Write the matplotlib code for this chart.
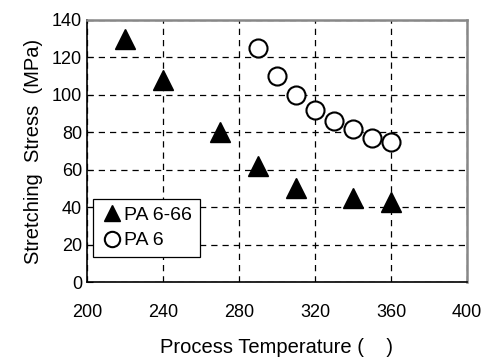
import matplotlib.pyplot as plt

plt.rcParams['font.family'] = ['Liberation Sans', 'DejaVu Sans']

# PA 6-66
temp_a = [220, 240, 270, 290, 310, 340, 360]
stress_a = [130, 108, 80, 62, 50, 45, 43]
# PA 6
temp_b = [290, 300, 310, 320, 330, 340, 350, 360]
stress_b = [125, 110, 100, 92, 86, 82, 77, 75]

fig = plt.figure(figsize=(4.85, 3.63), dpi=100)
ax = fig.add_axes([0.179, 0.223, 0.784, 0.722])

ax.plot(temp_a, stress_a, ls='none', marker='^', ms=14, color='black',
        label='PA 6-66', zorder=3)
ax.plot(temp_b, stress_b, ls='none', marker='o', ms=13, mfc='white',
        mec='black', mew=1.5, label='PA 6', zorder=3)

ax.set_xlim(200, 400)
ax.set_ylim(0, 140)
ax.set_xticks([200, 240, 280, 320, 360, 400])
ax.set_yticks(range(0, 141, 20))
ax.grid(True, color='black', ls=(0, (5, 4)), lw=0.9)
ax.tick_params(direction='in', labelsize=13, length=4)
ax.tick_params(axis='x', pad=16, length=0)

for s in ['top', 'right']:
    ax.spines[s].set_color('#888888')
    ax.spines[s].set_linewidth(1.8)
for s in ['left', 'bottom']:
    ax.spines[s].set_linewidth(1.2)

ax.set_ylabel('Stretching  Stress  (MPa)', fontsize=14.5, labelpad=6)
ax.set_xlabel('Process Temperature (    )', fontsize=14.5, labelpad=12)

leg = ax.legend(loc='lower left', bbox_to_anchor=(0.016, 0.095), fontsize=14,
                frameon=True, fancybox=False, edgecolor='black',
                handletextpad=0.0, handlelength=1.2, borderpad=0.4,
                borderaxespad=0, labelspacing=0.4, markerscale=0.85)
leg.get_frame().set_linewidth(0.9)
leg.get_frame().set_alpha(1)

fig.savefig('out.png', dpi=100)
